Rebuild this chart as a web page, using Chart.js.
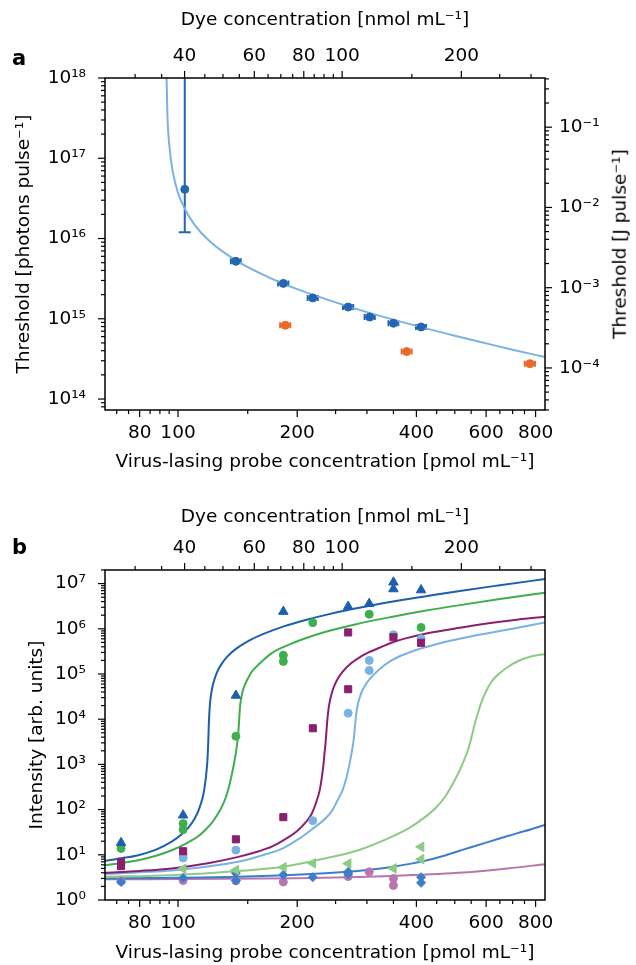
<!DOCTYPE html>
<html lang="en">
<head>
<meta charset="UTF-8">
<meta name="viewport" content="width=device-width, initial-scale=1.0">
<title>Virus-lasing probe | threshold and intensity</title>
<script src="https://cdn.jsdelivr.net/npm/chart.js"></script>
<style>
    body { margin: 0; background: #fff; }
    .janela { position: relative; width: 636px; height: 965px; overflow: hidden; font-family: "DejaVu Sans", sans-serif; color: #000; }
    canvas { position: absolute; left: 0; }
    .letra { position: absolute; left: 12px; font-weight: bold; font-size: 21px; line-height: 1; }
    .tituloDireita { position: absolute; left: 620px; top: 244px; transform: translate(-50%, -50%) rotate(-90deg); white-space: nowrap; font-size: 18.5px; line-height: 1; }
</style>
</head>
<body>
<div class="janela">
    <canvas id="graficoA" style="top:0" width="636" height="482"></canvas>
    <canvas id="graficoB" style="top:482px" width="636" height="483"></canvas>
    <div class="letra" style="top:48px">a</div>
    <div class="letra" style="top:537px">b</div>
    <div class="tituloDireita">Threshold [J pulse⁻¹]</div>
</div>

<script>
// ---------- values ----------

// panel a - threshold (photons/pulse) vs probe concentration (pmol/mL)
const probeA = [104, 140, 184.5, 219, 269, 305, 350, 411];
const thresholdA = [4.1e16, 5.2e15, 2.76e15, 1.82e15, 1.40e15, 1.05e15, 8.8e14, 7.9e14];
const probeErrA = [0, 4, 5.5, 6.5, 8, 9, 10, 12];
const thresholdLowA = [1.2e16, null, null, null, null, null, null, null];
const thresholdHighA = [5e18, null, null, null, null, null, null, null]; // runs past the top of the axis

const probeOrangeA = [186.6, 378, 774];
const thresholdOrangeA = [8.3e14, 3.9e14, 2.76e14];
const probeErrOrangeA = [5.5, 11, 23];

const fitProbeA = [93.5, 94, 95, 97, 100, 104, 110, 120, 140, 170, 200, 250, 300, 400, 500, 600, 700, 845];
const fitThresholdA = [1.2e18, 3.6e17, 1.5e17, 6.8e16, 3.7e16, 2.35e16, 1.49e16, 9.3e15, 5.35e15, 3.26e15, 2.34e15, 1.6e15, 1.21e15, 8.15e14, 6.15e14, 4.94e14, 4.12e14, 3.33e14];

// panel b - intensity (arb. units) vs probe concentration, measured points
const triProbeB = [71.8, 103, 140, 184.5, 269, 304, 350, 350, 411];
const triIntB = [18.4, 75, 3.35e4, 2.4e6, 3.1e6, 3.6e6, 1.07e7, 7.6e6, 7.2e6];
const greenProbeB = [71.8, 103, 103, 140, 184.5, 184.5, 219, 304, 411];
const greenIntB = [13.8, 49, 36, 4200, 2.6e5, 1.9e5, 1.37e6, 2.1e6, 1.07e6];
const purpleProbeB = [71.8, 71.8, 103, 140, 184.5, 219, 269, 269, 350, 411];
const purpleIntB = [7.0, 5.6, 12, 22, 68, 6300, 4.6e4, 8.3e5, 6.5e5, 4.9e5];
const lightBlueProbeB = [103, 103, 140, 219, 269, 304, 304, 350, 411];
const lightBlueIntB = [9.8, 8.5, 12.7, 57, 1.36e4, 2.0e5, 1.2e5, 7.4e5, 6.0e5];
const lightGreenProbeB = [103, 140, 184.5, 219, 269, 350, 411, 411];
const lightGreenIntB = [4.9, 4.6, 5.3, 6.5, 6.4, 5.0, 15, 8.0];
const midBlueProbeB = [71.8, 103, 140, 140, 184.5, 219, 269, 269, 411, 411];
const midBlueIntB = [2.5, 3.06, 3.9, 2.7, 3.6, 3.2, 4.2, 3.75, 3.2, 2.4];
const pinkProbeB = [71.8, 103, 140, 184.5, 269, 304, 350, 350];
const pinkIntB = [2.6, 2.7, 2.65, 2.5, 3.3, 4.2, 3.0, 2.1];

// panel b - fitted curves
const fitDarkBlueX = [65.4, 72, 79.4, 88, 96.4, 102, 106.2, 110, 112.5, 114.5, 115.8, 117, 118.2, 118.8, 119.2, 119.6, 120.3, 121, 122, 123, 124.5, 126.5, 129, 133, 140, 150, 165, 185, 210, 235, 280, 346, 420, 510, 650, 845];
const fitDarkBlueY = [7.4, 8.4, 9.8, 13, 19.5, 28, 40, 62, 92, 145, 210, 360, 800, 1500, 3000, 7500, 1.97e4, 3.2e4, 4.95e4, 6.6e4, 9.2e4, 1.27e5, 1.7e5, 2.4e5, 3.6e5, 5.3e5, 7.8e5, 1.13e6, 1.57e6, 2.01e6, 2.8e6, 3.95e6, 5.2e6, 6.8e6, 9.2e6, 1.26e7];
const fitGreenX = [65.4, 72, 79.4, 88, 96.4, 105, 112, 117, 122, 126, 129, 132, 134.5, 136.5, 138.5, 140, 141, 141.7, 142.3, 142.9, 143.5, 144.5, 146, 148, 150.5, 153.5, 160, 172.5, 190, 209, 235, 280, 346, 420, 510, 650, 845];
const fitGreenY = [5.9, 6.6, 7.6, 9.5, 12.6, 18, 25, 35, 52, 80, 115, 185, 320, 560, 1050, 1800, 2800, 4000, 6500, 1.2e4, 2.0e4, 3.0e4, 4.5e4, 6.2e4, 8.3e4, 1.12e5, 1.64e5, 2.9e5, 4.4e5, 6.1e5, 8.5e5, 1.25e6, 1.83e6, 2.5e6, 3.3e6, 4.55e6, 6.3e6];
const fitPurpleX = [65.4, 80, 96.4, 120, 142, 160, 172.5, 188, 201, 210, 217.6, 223, 228, 231, 233, 234.5, 236, 237.3, 238.5, 240, 242, 245, 249, 253, 260, 274, 290, 303, 325, 346, 380, 421, 490, 563, 700, 845];
const fitPurpleY = [4.0, 4.4, 5.0, 6.6, 9.0, 12, 15.1, 23, 35, 52, 81, 140, 270, 550, 1000, 1800, 3200, 6000, 1.05e4, 1.7e4, 2.6e4, 4.0e4, 5.9e4, 7.8e4, 1.1e5, 1.75e5, 2.45e5, 3.0e5, 3.9e5, 4.9e5, 6.3e5, 7.8e5, 9.8e5, 1.2e6, 1.55e6, 1.86e6];
const fitLightBlueX = [65.4, 80, 96.4, 120, 142, 165, 184.5, 204, 219, 235, 245, 253, 260, 266.5, 271, 275, 277.5, 279.5, 281.3, 283.5, 286.5, 291, 297, 303, 320, 346, 380, 421, 490, 563, 700, 845];
const fitLightBlueY = [3.75, 4.1, 4.5, 5.6, 7.0, 10, 14.1, 24, 38, 62, 95, 162, 260, 520, 1000, 2000, 3300, 6000, 1.1e4, 1.8e4, 2.7e4, 4.0e4, 5.6e4, 7.2e4, 1.2e5, 2.0e5, 2.9e5, 3.9e5, 5.5e5, 7.1e5, 1.0e6, 1.38e6];
const fitLightGreenX = [65.4, 96.4, 142, 184.5, 235, 285, 346, 385, 421, 448, 472, 510, 527.6, 541.6, 552.7, 560.9, 568.1, 578.9, 590.2, 603, 617.2, 631.7, 650.4, 677.5, 723.4, 774.2, 845];
const fitLightGreenY = [3.27, 3.55, 4.37, 5.43, 8.3, 12.6, 25, 40, 69, 110, 190, 630, 1230, 2270, 4390, 7680, 1.11e4, 1.92e4, 3.03e4, 4.55e4, 6.49e4, 8.37e4, 1.05e5, 1.39e5, 1.94e5, 2.4e5, 2.79e5];
const fitMidBlueX = [65.4, 142, 235, 300, 346, 385, 421, 465, 510, 560, 620, 680, 752, 845];
const fitMidBlueY = [3.0, 3.27, 3.9, 4.6, 5.4, 6.3, 7.4, 9.3, 12, 15.5, 20.3, 26, 33.5, 46];
const fitPinkX = [65.4, 235, 346, 510, 680, 845];
const fitPinkY = [2.86, 3.1, 3.4, 4.0, 5.0, 6.2];

// axes
const probeTickLabels = [80, 100, 200, 400, 600, 800];
const probeMinorTicks = [70, 75, 85, 90, 95, 150, 250, 300, 350, 450, 500, 550, 650, 700, 750];
const dyeTickLabels = [40, 60, 80, 100, 200];
const dyeMinorTicks = [30, 35, 45, 50, 55, 65, 70, 75, 85, 90, 95, 150, 250, 300];
const photonExps = [14, 15, 16, 17, 18];
const jouleExps = [-4, -3, -2, -1];
const intensityExps = [0, 1, 2, 3, 4, 5, 6, 7];

const PROBE_MIN = 65.4, PROBE_MAX = 845;
const DYE_PER_PROBE = 0.385;     // nmol dye per pmol probe
const J_PER_PHOTON = 4.1e-19;
const PHOTON_MIN = 7.3e13, PHOTON_MAX = 1e18;
const INT_MIN = 1, INT_MAX = 2e7;

// ---------- helpers ----------
const C = {
    blue: '#2265b0', orange: '#e8692a', lightBlue: '#7ab2e2',
    darkBlue: '#1c5fae', green: '#3fae4c', purple: '#8a1f6e',
    lightGreen: '#8ccb84', midBlue: '#3d7dcc', pink: '#b777ae'
};
const fonte = { family: '"DejaVu Sans", sans-serif', size: 18.5 };

const SUP = { '-': '⁻', '0': '⁰', '1': '¹', '2': '²', '3': '³', '4': '⁴', '5': '⁵', '6': '⁶', '7': '⁷', '8': '⁸', '9': '⁹' };
function powerLabel(e) {
    return '10' + String(e).split('').map(c => SUP[c]).join('');
}
function powerLabels(exps) {
    let map = new Map();
    exps.forEach(e => map.set(Number('1e' + e), powerLabel(e)));
    return map;
}
function plainLabels(list) {
    let map = new Map();
    list.forEach(v => map.set(v, String(v)));
    return map;
}
function decadeValues(eMin, eMax) {
    let vals = [];
    for (let e = eMin; e <= eMax; e++) {
        for (let m = 1; m <= 9; m++) vals.push(Number(m + 'e' + e));
    }
    return vals;
}
function pts(xs, ys) {
    return xs.map((x, i) => ({ x: x, y: ys[i] }));
}

function logAxis(o) {
    const horizontal = o.position === 'top' || o.position === 'bottom';
    return {
        type: 'logarithmic',
        axis: horizontal ? 'x' : 'y',
        position: o.position,
        min: o.min,
        max: o.max,
        afterBuildTicks: scale => {
            scale.ticks = o.values
                .filter(v => v >= o.min && v <= o.max)
                .sort((a, b) => a - b)
                .map(v => ({ value: v, major: o.labels.has(v) }));
        },
        afterFit: scale => {
            if (horizontal) scale.height = o.size; else scale.width = o.size;
        },
        grid: { display: false, drawTicks: false, tickLength: 0 },
        border: { display: false },
        ticks: {
            autoSkip: false, maxRotation: 0, minRotation: 0,
            padding: o.pad, color: '#000', font: fonte,
            callback: v => o.labels.get(v) || ''
        },
        title: o.title
            ? { display: true, text: o.title, color: '#000', font: fonte, padding: o.titlePad }
            : { display: false }
    };
}

// frame round the plot area plus outward tick marks
const axisFrame = {
    id: 'axisFrame',
    afterDraw(chart) {
        const { ctx, chartArea: a } = chart;
        ctx.save();
        ctx.strokeStyle = '#000';
        ctx.lineWidth = 1.5;
        ctx.strokeRect(a.left, a.top, a.right - a.left, a.bottom - a.top);
        ctx.lineWidth = 1.2;
        Object.values(chart.scales).forEach(s => {
            s.ticks.forEach(t => {
                const p = s.getPixelForValue(t.value);
                const len = t.major ? 7 : 4;
                ctx.beginPath();
                if (s.position === 'left') { ctx.moveTo(a.left, p); ctx.lineTo(a.left - len, p); }
                else if (s.position === 'right') { ctx.moveTo(a.right, p); ctx.lineTo(a.right + len, p); }
                else if (s.position === 'top') { ctx.moveTo(p, a.top); ctx.lineTo(p, a.top - len); }
                else { ctx.moveTo(p, a.bottom); ctx.lineTo(p, a.bottom + len); }
                ctx.stroke();
            });
        });
        ctx.restore();
    }
};

// error bars of panel a
const errorBarsA = {
    id: 'errorBarsA',
    beforeDatasetsDraw(chart) {
        const { ctx, chartArea: a, scales: { x, y } } = chart;
        ctx.save();
        ctx.beginPath();
        ctx.rect(a.left, a.top, a.right - a.left, a.bottom - a.top);
        ctx.clip();
        ctx.lineWidth = 2;

        function hBars(xs, ys, errs, color) {
            ctx.strokeStyle = color;
            xs.forEach((v, i) => {
                if (!errs[i]) return;
                const x0 = x.getPixelForValue(v - errs[i]);
                const x1 = x.getPixelForValue(v + errs[i]);
                const py = y.getPixelForValue(ys[i]);
                ctx.beginPath();
                ctx.moveTo(x0, py); ctx.lineTo(x1, py);
                ctx.moveTo(x0, py - 3); ctx.lineTo(x0, py + 3);
                ctx.moveTo(x1, py - 3); ctx.lineTo(x1, py + 3);
                ctx.stroke();
            });
        }
        hBars(probeA, thresholdA, probeErrA, C.blue);
        hBars(probeOrangeA, thresholdOrangeA, probeErrOrangeA, C.orange);

        ctx.strokeStyle = C.blue;
        probeA.forEach((v, i) => {
            if (thresholdLowA[i] == null) return;
            const px = x.getPixelForValue(v);
            const y0 = y.getPixelForValue(thresholdLowA[i]);
            const y1 = y.getPixelForValue(thresholdHighA[i]);
            ctx.beginPath();
            ctx.moveTo(px, y0); ctx.lineTo(px, y1);
            ctx.moveTo(px - 6, y0); ctx.lineTo(px + 6, y0);
            ctx.stroke();
        });
        ctx.restore();
    }
};

const probeTicks = probeTickLabels.concat(probeMinorTicks);
const dyeTicks = dyeTickLabels.concat(dyeMinorTicks);
const probeTitle = 'Virus-lasing probe concentration [pmol mL⁻¹]';
const dyeTitle = 'Dye concentration [nmol mL⁻¹]';

const baseOptions = {
    responsive: false,
    animation: false,
    events: [],
    plugins: { legend: { display: false }, tooltip: { enabled: false } }
};

// ---------- panel a ----------
new Chart(document.getElementById('graficoA'), {
    type: 'scatter',
    data: {
        datasets: [
            { data: pts(probeA, thresholdA), backgroundColor: C.blue, borderColor: C.blue, pointRadius: 4, order: 1 },
            { data: pts(probeOrangeA, thresholdOrangeA), backgroundColor: C.orange, borderColor: C.orange, pointRadius: 4, order: 1 },
            {
                data: pts(fitProbeA, fitThresholdA), showLine: true, pointRadius: 0,
                borderColor: C.lightBlue, borderWidth: 2, cubicInterpolationMode: 'monotone', order: 2
            }
        ]
    },
    options: Object.assign({}, baseOptions, {
        layout: { padding: 0 },
        scales: {
            x: logAxis({ position: 'bottom', min: PROBE_MIN, max: PROBE_MAX, values: probeTicks, labels: plainLabels(probeTickLabels), size: 72, pad: 12, title: probeTitle, titlePad: { top: 0, bottom: 9 } }),
            x2: logAxis({ position: 'top', min: PROBE_MIN * DYE_PER_PROBE, max: PROBE_MAX * DYE_PER_PROBE, values: dyeTicks, labels: plainLabels(dyeTickLabels), size: 78, pad: 11, title: dyeTitle, titlePad: { top: 9, bottom: 0 } }),
            y: logAxis({ position: 'left', min: PHOTON_MIN, max: PHOTON_MAX, values: decadeValues(13, 18), labels: powerLabels(photonExps), size: 105, pad: 19, title: 'Threshold [photons pulse⁻¹]', titlePad: { top: 13, bottom: 0 } }),
            y2: logAxis({ position: 'right', min: PHOTON_MIN * J_PER_PHOTON, max: PHOTON_MAX * J_PER_PHOTON, values: decadeValues(-5, -1), labels: powerLabels(jouleExps), size: 91, pad: 14 })
        }
    }),
    plugins: [axisFrame, errorBarsA]
});

// ---------- panel b ----------
function markers(xs, ys, color, style, radius, order, rotation) {
    return {
        data: pts(xs, ys), backgroundColor: color, borderColor: color, borderWidth: 1,
        pointStyle: style, pointRadius: radius, pointRotation: rotation || 0, order: order
    };
}
function curve(xs, ys, color) {
    return {
        data: pts(xs, ys), showLine: true, pointRadius: 0, borderColor: color,
        borderWidth: 2, cubicInterpolationMode: 'monotone', order: 20
    };
}

new Chart(document.getElementById('graficoB'), {
    type: 'scatter',
    data: {
        datasets: [
            markers(triProbeB, triIntB, C.darkBlue, 'triangle', 5.5, 1),
            markers(greenProbeB, greenIntB, C.green, 'circle', 4, 2),
            markers(purpleProbeB, purpleIntB, C.purple, 'rect', 5, 3),
            markers(lightBlueProbeB, lightBlueIntB, C.lightBlue, 'circle', 4, 4),
            markers(lightGreenProbeB, lightGreenIntB, C.lightGreen, 'triangle', 5.5, 5, -90),
            markers(midBlueProbeB, midBlueIntB, C.midBlue, 'rectRot', 4.5, 6),
            markers(pinkProbeB, pinkIntB, C.pink, 'circle', 4, 7),
            curve(fitDarkBlueX, fitDarkBlueY, C.darkBlue),
            curve(fitGreenX, fitGreenY, C.green),
            curve(fitPurpleX, fitPurpleY, C.purple),
            curve(fitLightBlueX, fitLightBlueY, C.lightBlue),
            curve(fitLightGreenX, fitLightGreenY, C.lightGreen),
            curve(fitMidBlueX, fitMidBlueY, C.midBlue),
            curve(fitPinkX, fitPinkY, C.pink)
        ]
    },
    options: Object.assign({}, baseOptions, {
        layout: { padding: { left: 0, right: 91, top: 0, bottom: 0 } },
        scales: {
            x: logAxis({ position: 'bottom', min: PROBE_MIN, max: PROBE_MAX, values: probeTicks, labels: plainLabels(probeTickLabels), size: 65, pad: 12, title: probeTitle, titlePad: { top: 0, bottom: 1 } }),
            x2: logAxis({ position: 'top', min: PROBE_MIN * DYE_PER_PROBE, max: PROBE_MAX * DYE_PER_PROBE, values: dyeTicks, labels: plainLabels(dyeTickLabels), size: 88, pad: 11, title: dyeTitle, titlePad: { top: 24, bottom: 0 } }),
            y: logAxis({ position: 'left', min: INT_MIN, max: INT_MAX, values: decadeValues(0, 7), labels: powerLabels(intensityExps), size: 105, pad: 19, title: 'Intensity [arb. units]', titlePad: { top: 26, bottom: 0 } })
        }
    }),
    plugins: [axisFrame]
});
</script>
</body>
</html>
